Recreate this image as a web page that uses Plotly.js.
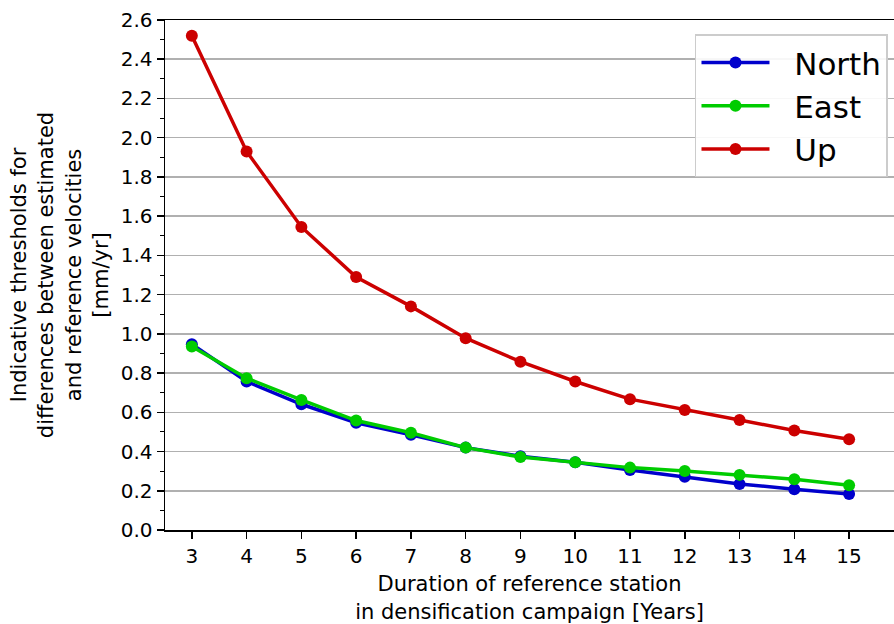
<!DOCTYPE html>
<html>
<head>
<meta charset="utf-8">
<script src="https://cdn.plot.ly/plotly-3.0.1.min.js"></script>
<style>html,body{margin:0;padding:0;background:#fff;}#chart{width:894px;height:624px;}</style>
</head>
<body>
<div id="chart"></div>
<script>
const years = [3, 4, 5, 6, 7, 8, 9, 10, 11, 12, 13, 14, 15];
const north = [0.947, 0.757, 0.641, 0.547, 0.485, 0.420, 0.376, 0.345, 0.306, 0.272, 0.235, 0.208, 0.184];
const east  = [0.935, 0.774, 0.663, 0.558, 0.496, 0.420, 0.372, 0.345, 0.318, 0.301, 0.281, 0.259, 0.228];
const up    = [2.52, 1.93, 1.545, 1.29, 1.14, 0.978, 0.858, 0.757, 0.667, 0.612, 0.561, 0.507, 0.463];
const seriesNames = ['North', 'East', 'Up'];
const seriesColors = ['#0000cc', '#00cc00', '#cc0000'];
const seriesData = [north, east, up];

const pad = '\u00A0\u00A0';
const traces = seriesData.map((vals, i) => ({
  x: years, y: vals, name: pad + seriesNames[i], type: 'scatter', mode: 'lines+markers',
  line: {color: seriesColors[i], width: 3.5},
  marker: {color: seriesColors[i], size: 12}
}));

const font = 'DejaVu Sans, sans-serif';
const layout = {
  width: 894, height: 624,
  margin: {l: 165, r: 0, t: 20, b: 94},
  paper_bgcolor: '#fff', plot_bgcolor: '#fff',
  font: {family: font, color: '#000', size: 20},
  showlegend: true,
  legend: {
    x: 0.727, y: 0.972, xanchor: 'left', yanchor: 'top',
    bgcolor: 'rgba(255,255,255,0.9)', bordercolor: '#cccccc', borderwidth: 1.5,
    font: {family: font, size: 31, color: '#000'},
    itemwidth: 68, tracegroupgap: 0
  },
  xaxis: {
    range: [2.51, 15.82], tickmode: 'array', tickvals: years, ticktext: years.map(String),
    showgrid: false, zeroline: false,
    showline: true, linecolor: '#000', linewidth: 1.5, mirror: true,
    ticks: 'outside', ticklen: 7, tickwidth: 1.5, tickcolor: '#000',
    tickfont: {family: font, size: 20},
    title: {text: 'Duration of reference station<br>in densification campaign [Years]', font: {family: font, size: 21}, standoff: 10}
  },
  yaxis: {
    range: [0, 2.6], dtick: 0.2, tickformat: '.1f',
    showgrid: true, gridcolor: '#b0b0b0', gridwidth: 1.5, zeroline: false,
    showline: true, linecolor: '#000', linewidth: 1.5,
    ticks: 'outside', ticklen: 7, tickwidth: 1.5, tickcolor: '#000',
    tickfont: {family: font, size: 20},
    minor: {dtick: 0.1, ticks: 'outside', ticklen: 4, tickwidth: 1, tickcolor: '#000', showgrid: false},
    title: {text: 'Indicative thresholds for<br>differences between estimated<br>and reference velocities<br>[mm/yr]', font: {family: font, size: 21}, standoff: 6}
  }
};

Plotly.newPlot('chart', traces, layout, {displayModeBar: false, staticPlot: true});
</script>
</body>
</html>
